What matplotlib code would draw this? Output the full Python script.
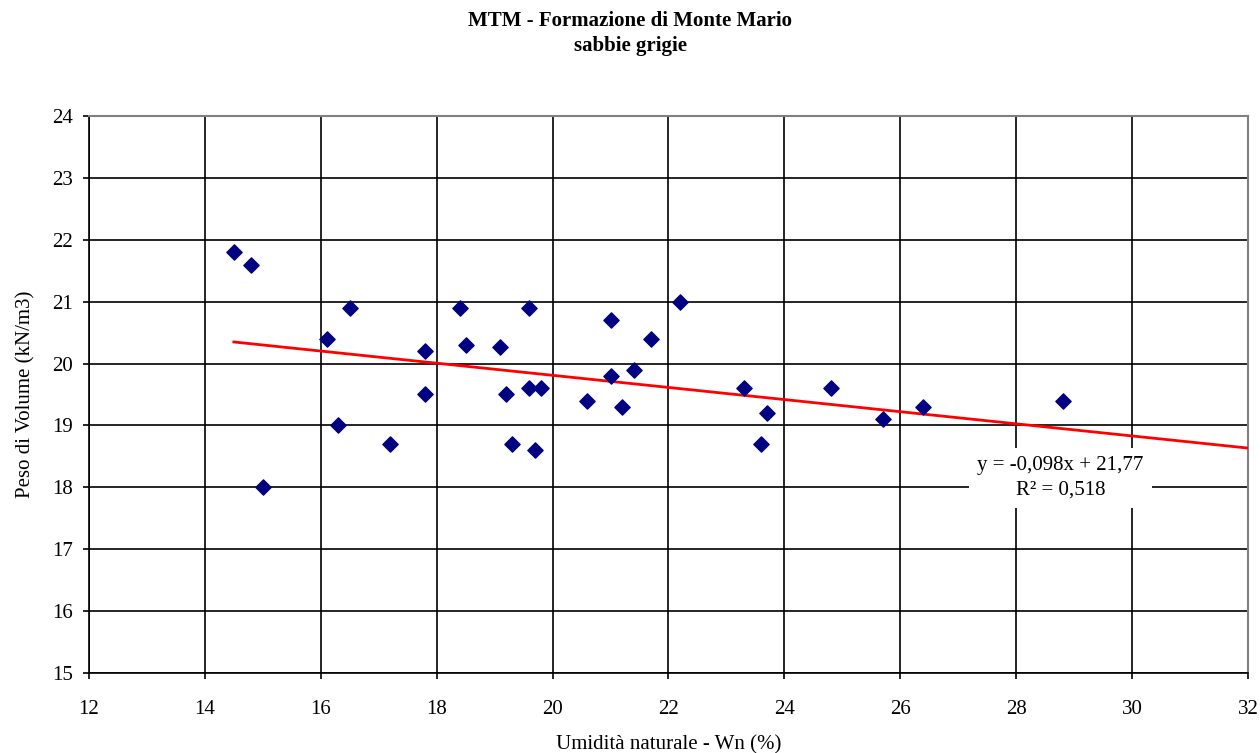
import numpy as np
import matplotlib.pyplot as plt

# Umidità naturale (%) e peso di volume (kN/m3) dei campioni
wn = [14.5, 14.8, 15.0, 16.1, 16.3, 16.5, 17.2, 17.8, 17.8, 18.4, 18.5,
      19.1, 19.2, 19.3, 19.6, 19.6, 19.7, 19.8, 20.6, 21.0, 21.0, 21.2,
      21.4, 21.7, 22.2, 23.3, 23.7, 23.6, 24.8, 25.7, 26.4, 28.8]
gamma = [21.8, 21.6, 18.0, 20.4, 19.0, 20.9, 18.7, 20.2, 19.5, 20.9, 20.3,
         20.27, 19.5, 18.7, 20.9, 19.6, 18.6, 19.6, 19.4, 20.7, 19.8, 19.3,
         19.9, 20.4, 21.0, 19.6, 19.2, 18.7, 19.6, 19.1, 19.3, 19.4]

# retta di regressione
pendenza = -0.098
intercetta = 21.77
r2 = 0.518

x_ticks = [12, 14, 16, 18, 20, 22, 24, 26, 28, 30, 32]
y_ticks = [15, 16, 17, 18, 19, 20, 21, 22, 23, 24]

plt.rcParams['font.family'] = ['Liberation Serif', 'DejaVu Serif']

fig = plt.figure(figsize=(12.6, 7.53), dpi=100)
ax = fig.add_axes([0.0706, 0.1063, 0.9199, 0.7396])

ax.set_xlim(12, 32)
ax.set_ylim(15, 24)
ax.set_xticks(x_ticks)
ax.set_yticks(y_ticks)
ax.grid(True, color='black', linewidth=1.2)
ax.set_axisbelow(True)

for lato in ['top', 'right']:
    ax.spines[lato].set_color('#808080')
    ax.spines[lato].set_linewidth(1.5)
for lato in ['left', 'bottom']:
    ax.spines[lato].set_color('black')
    ax.spines[lato].set_linewidth(1.2)

ax.tick_params(direction='out', length=4.5, width=1.2, labelsize=15)
ax.tick_params(axis='x', pad=15)
ax.tick_params(axis='y', pad=7)

# linea di tendenza
xr = np.array([min(wn), 32])
ax.plot(xr, pendenza * xr + intercetta, color='red', linewidth=2, zorder=3)

ax.scatter(wn, gamma, marker='D', s=60, color='#000080', zorder=4)

eq = f"y = {pendenza:.3f}x + {intercetta:.2f}\nR² = {r2:.3f}".replace('.', ',')
ax.text(28.76, 18.15, eq, ha='center', va='center', fontsize=15,
        linespacing=1.4, zorder=5,
        bbox=dict(facecolor='white', edgecolor='none', pad=6))

ax.set_xlabel('Umidità naturale - Wn (%)', fontsize=15, labelpad=12)
ax.set_ylabel('Peso di Volume (kN/m3)', fontsize=15, labelpad=12)

fig.text(0.5, 0.956, 'MTM - Formazione di Monte Mario\nsabbie grigie',
         ha='center', va='center', fontsize=15, fontweight='bold',
         linespacing=1.35)

fig.savefig('out.png', dpi=100)
